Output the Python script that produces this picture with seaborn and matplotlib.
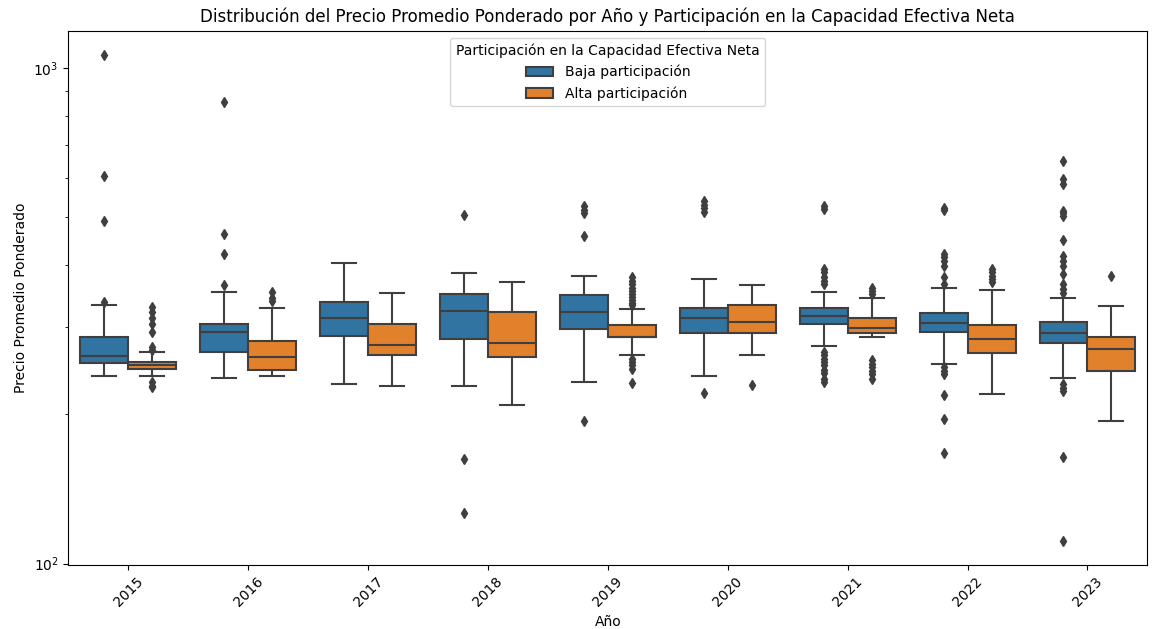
import numpy as np
import pandas as pd
import matplotlib.pyplot as plt
import seaborn as sns

# Datos (estadísticos de cada caja)
anios = ['2015', '2016', '2017', '2018', '2019', '2020', '2021', '2022', '2023']
grupos = ['Baja participación', 'Alta participación']

# Baja participación
baja_q1 = [253.9, 267.6, 288.2, 283.8, 297.2, 291.2, 304.2, 292.6, 278.1]
baja_mediana = [262.7, 292.6, 312.9, 323.6, 321.1, 312.9, 315.2, 305.1, 292.5]
baja_q3 = [285.9, 304.2, 336.5, 349.7, 348.5, 327.2, 327.2, 320.2, 306.5]
baja_bigote_inf = [239.4, 236.4, 230.3, 228.5, 232.1, 239.0, 274.3, 252.3, 237.0]
baja_bigote_sup = [331.7, 353.4, 403.1, 384.9, 379.6, 374.9, 353.4, 360.0, 344.1]
baja_atipicos = [
    [1061, 605, 491, 336.5],
    [855, 463, 422, 365],
    [],
    [504.7, 162.8, 126.7],
    [527, 517, 510, 458, 193.6],
    [540, 530, 522, 512, 220.4],
    [526, 520, 393, 388, 378, 372, 366, 267, 263, 259, 255, 251, 246, 242, 236, 232],
    [521, 516, 421, 415, 408, 399, 378, 366, 249, 245, 241, 219, 196, 167],
    [649, 597, 583, 515, 509, 503, 450, 418, 408, 398, 384, 366, 358, 352,
     230, 226, 223, 164, 111.3],
]

# Alta participación
alta_q1 = [246.9, 245.8, 263.9, 261.5, 285.9, 292.5, 291.2, 266.0, 244.2]
alta_mediana = [251.5, 260.6, 276.4, 278.1, 286.5, 306.5, 299.4, 283.3, 271.0]
alta_q3 = [255.5, 281.6, 304.2, 321.1, 302.8, 332.8, 312.9, 302.8, 286.9]
alta_bigote_inf = [239.4, 239.4, 228.5, 208.9, 263.9, 263.9, 286.9, 219.8, 194.2]
alta_bigote_sup = [267.6, 327.7, 351.3, 370.2, 327.0, 365.2, 344.0, 356.3, 331.3]
alta_atipicos = [
    [328.6, 321.1, 313, 304.2, 292.6, 273, 270, 232.1, 228.5, 226.8],
    [353.4, 344.1, 338],
    [],
    [],
    [378, 372, 366, 360, 355, 350, 345, 340, 336, 332, 258.5, 255, 251, 247, 231],
    [229],
    [359, 354, 350, 257, 253, 249, 245, 241, 236],
    [393, 388, 380, 375, 370],
    [380.8],
]


def muestra_desde_estadisticos(q1, med, q3, b_inf, b_sup, atipicos):
    # arma una muestra cuyos cuartiles coinciden con los
    bajos = sorted(v for v in atipicos if v < q1)
    altos = sorted(v for v in atipicos if v > q3)
    inferior = bajos + [b_inf]
    superior = [b_sup] + altos
    k = max(len(inferior), len(superior), 1)
    valores = inferior + [q1] * (k + 1 - len(inferior))
    valores += [q1] * (k - 1) + [med] + [med] * (k - 1)
    valores += [q3] + [q3] * (k - len(superior)) + superior
    return valores


filas = []
for i, anio in enumerate(anios):
    for grupo, q1, med, q3, bi, bs, at in [
        (grupos[0], baja_q1, baja_mediana, baja_q3, baja_bigote_inf, baja_bigote_sup, baja_atipicos),
        (grupos[1], alta_q1, alta_mediana, alta_q3, alta_bigote_inf, alta_bigote_sup, alta_atipicos),
    ]:
        for v in muestra_desde_estadisticos(q1[i], med[i], q3[i], bi[i], bs[i], at[i]):
            filas.append({'Año': anio, 'Participación': grupo, 'Precio': v})

df = pd.DataFrame(filas)

plt.rcParams['font.family'] = ['DejaVu Sans']
fig, ax = plt.subplots(figsize=(11.59, 6.29), dpi=100)
fig.subplots_adjust(left=0.059, right=0.99, top=0.951, bottom=0.102)

gris = '#3f3f3f'
sns.boxplot(data=df, x='Año', y='Precio', hue='Participación', order=anios,
            hue_order=grupos, palette=['#3274a1', '#e1812c'], saturation=1,
            linecolor=gris, linewidth=1.5, ax=ax,
            flierprops=dict(marker='d', markerfacecolor=gris, markeredgecolor=gris,
                            markersize=5))
ax.set_yscale('log')

ax.set_title('Distribución del Precio Promedio Ponderado por Año y Participación en la Capacidad Efectiva Neta')
ax.set_xlabel('Año')
ax.set_ylabel('Precio Promedio Ponderado')
plt.setp(ax.get_xticklabels(), rotation=45)
ax.legend(title='Participación en la Capacidad Efectiva Neta', loc='upper center')

fig.savefig('out.png', dpi=100)
